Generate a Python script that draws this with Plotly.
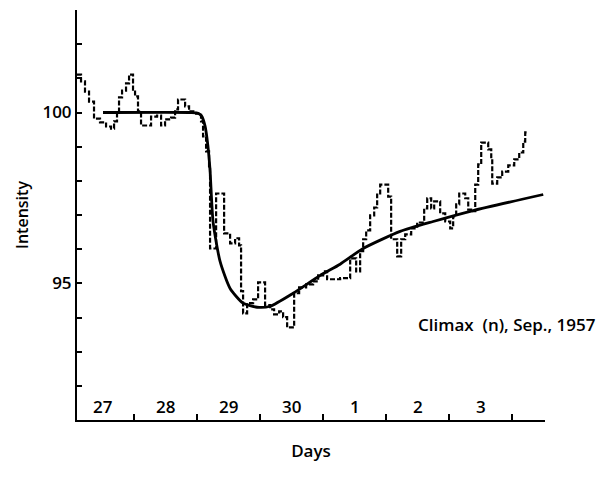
import plotly.graph_objects as go

# Neutron monitor record, Climax, late September 1957.
# Time in days counted from 0h on 27 September; intensity in per cent.
obs_days = [0.095, 0.159, 0.222, 0.286, 0.365, 0.460, 0.556, 0.635, 0.683, 0.730,
            0.762, 0.810, 0.873, 0.921, 0.984, 1.016, 1.063, 1.111, 1.206, 1.270,
            1.365, 1.429, 1.492, 1.587, 1.651, 1.698, 1.810, 1.873, 1.984, 2.063,
            2.095, 2.143, 2.190, 2.206, 2.302, 2.429, 2.524, 2.603, 2.667, 2.698,
            2.730, 2.794, 2.889, 2.968, 3.079, 3.159, 3.222, 3.302, 3.365, 3.429,
            3.540, 3.619, 3.730, 3.841, 3.921, 4.000, 4.063, 4.270, 4.429, 4.524,
            4.587, 4.635, 4.683, 4.746, 4.810, 4.857, 4.905, 5.032, 5.079, 5.175,
            5.238, 5.302, 5.397, 5.492, 5.603, 5.651, 5.714, 5.762, 5.857, 5.937,
            6.016, 6.063, 6.111, 6.159, 6.254, 6.302, 6.381, 6.413, 6.460, 6.508,
            6.619, 6.667, 6.683, 6.762, 6.841, 6.937, 7.032, 7.111, 7.175, 7.206,
            7.238]
obs_intensity = [101.11, 100.91, 100.61, 100.32, 99.82, 99.71, 99.59, 99.53, 99.74, 99.97,
                 100.44, 100.64, 100.85, 101.11, 100.67, 100.47, 100.03, 99.62, 99.62, 99.88,
                 99.91, 99.62, 99.80, 99.85, 100.09, 100.38, 100.18, 100.03, 99.97, 99.74,
                 99.30, 98.86, 98.42, 96.02, 97.63, 96.46, 96.17, 96.32, 96.11, 94.77,
                 94.12, 94.42, 94.53, 95.03, 94.36, 94.24, 94.09, 94.18, 94.01, 93.71,
                 94.71, 94.88, 94.97, 95.06, 95.23, 95.35, 95.12, 95.15, 95.73, 95.35,
                 95.94, 96.29, 96.55, 96.99, 97.22, 97.60, 97.89, 97.54, 96.29, 95.79,
                 96.29, 96.43, 96.61, 96.78, 97.19, 97.49, 97.19, 97.40, 97.05, 96.81,
                 96.61, 96.96, 97.31, 97.63, 97.49, 97.16, 97.11, 97.89, 98.48, 99.12,
                 98.92, 98.65, 97.92, 98.10, 98.27, 98.45, 98.63, 98.83, 99.15, 99.42,
                 99.42]

# Smooth decrease-and-recovery curve
fit_days = [0.508, 1.900, 2.016, 2.070, 2.127, 2.170, 2.206, 2.254, 2.365, 2.524,
            2.730, 2.952, 3.159, 3.524, 3.952, 4.270, 4.635, 5.222, 5.746, 6.381,
            7.492]
fit_intensity = [100.0, 100.0, 99.98, 99.90, 99.60, 99.05, 98.30, 96.80, 95.64, 94.85,
                 94.42, 94.30, 94.33, 94.71, 95.23, 95.56, 96.02, 96.52, 96.81, 97.13,
                 97.60]

day_labels = ["27", "28", "29", "30", "1", "2", "3"]
day_label_pos = [0.5, 1.5, 2.5, 3.5, 4.5, 5.5, 6.5]
day_boundaries = [1, 2, 3, 4, 5, 6, 7]

y_ticks = list(range(91, 104))
y_ticktext = ["100" if v == 100 else "95" if v == 95 else "" for v in y_ticks]

FONT = "Open Sans, DejaVu Sans, sans-serif"

fig = go.Figure()
fig.add_trace(go.Scatter(
    x=obs_days, y=obs_intensity, mode="lines",
    line=dict(color="black", width=2.2, dash="5px,2px", shape="hv"),
    hoverinfo="skip", showlegend=False))
fig.add_trace(go.Scatter(
    x=fit_days, y=fit_intensity, mode="lines",
    line=dict(color="black", width=2.8, shape="spline", smoothing=0.6),
    hoverinfo="skip", showlegend=False))

for txt, xp in zip(day_labels, day_label_pos):
    fig.add_annotation(x=xp, y=91, yref="y", text=txt, showarrow=False,
                       yanchor="bottom", yshift=0,
                       font=dict(family=FONT, size=17, color="black", weight=600))

fig.add_annotation(x=1.0, y=93.8, xref="paper", yref="y",
                   text="Climax  (n), Sep., 1957", showarrow=False,
                   xanchor="right", xshift=53,
                   font=dict(family=FONT, size=17, color="black", weight=600))

fig.update_layout(
    width=601, height=491,
    margin=dict(l=77, r=56, t=10, b=71),
    paper_bgcolor="white", plot_bgcolor="white",
    font=dict(family=FONT, size=16, color="black"),
    xaxis=dict(range=[0.095, 7.52], showgrid=False, zeroline=False,
               showline=True, linecolor="black", linewidth=2,
               tickvals=day_boundaries, ticks="inside", ticklen=6,
               tickwidth=1.5, tickcolor="black", showticklabels=False,
               title=dict(text="Days", standoff=24,
                          font=dict(family=FONT, size=17, weight=600))),
    yaxis=dict(range=[91, 103], showgrid=False, zeroline=False,
               showline=True, linecolor="black", linewidth=2,
               tickvals=y_ticks, ticktext=y_ticktext, ticks="inside",
               ticklen=5, tickwidth=1.5, tickcolor="black",
               tickfont=dict(family=FONT, size=17, weight=600),
               title=dict(text="Intensity", standoff=10,
                          font=dict(family=FONT, size=16, weight=600))),
)

fig.write_html("out.html")
